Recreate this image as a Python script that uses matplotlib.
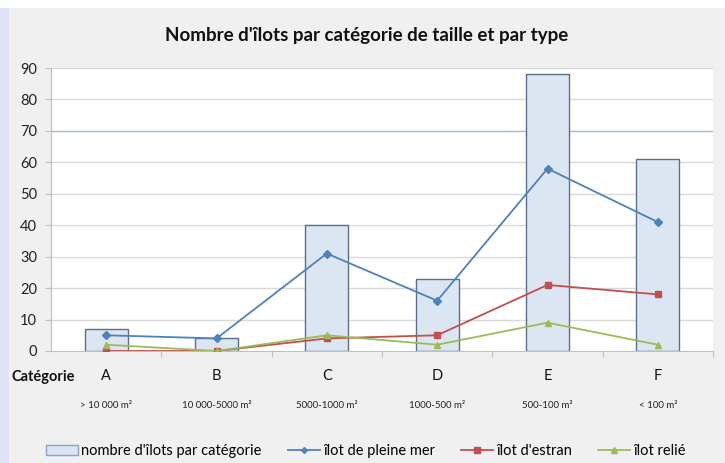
import matplotlib
matplotlib.use("Agg")
import matplotlib.pyplot as plt
from matplotlib.patches import Rectangle
from matplotlib.lines import Line2D

plt.rcParams['font.family'] = ['Lato', 'DejaVu Sans']

categories = ["A", "B", "C", "D", "E", "F"]
sizes = ["> 10 000 m²", "10 000-5000 m²", "5000-1000 m²", "1000-500 m²", "500-100 m²", "< 100 m²"]
total = [7, 4, 40, 23, 88, 61]
pleine_mer = [5, 4, 31, 16, 58, 41]
estran = [0, 0, 4, 5, 21, 18]
relie = [2, 0, 5, 2, 9, 2]

W, H = 725, 463
fig = plt.figure(figsize=(W / 100, H / 100), dpi=100)
fig.patch.set_facecolor("#f0f0f0")
fig.patches.append(Rectangle((0, 1 - 8 / H), 1, 8 / H, transform=fig.transFigure,
                             facecolor="white", edgecolor="none", zorder=0))
fig.patches.append(Rectangle((0, 0), 9 / W, 1 - 8 / H, transform=fig.transFigure,
                             facecolor="#dfe3f5", edgecolor="none", zorder=0))

left, right, top, bottom = 51, 713, 68, 351
ax = fig.add_axes([left / W, 1 - bottom / H, (right - left) / W, (bottom - top) / H])
ax.set_facecolor("white")

x = list(range(len(categories)))
ax.bar(x, total, width=0.39, color="#dce6f2", edgecolor="#5d7089", linewidth=1.0, zorder=2)
ax.plot(x, pleine_mer, color="#4f81bd", marker="D", markersize=4, linewidth=1.3, zorder=3)
ax.plot(x, estran, color="#c0504d", marker="s", markersize=5, linewidth=1.3, zorder=3)
ax.plot(x, relie, color="#9bbb59", marker="^", markersize=5, linewidth=1.3, zorder=4)

ax.set_xlim(-0.5, len(categories) - 0.5)
ax.set_ylim(0, 90)
ax.set_yticks(range(0, 91, 10))
for v in range(10, 91, 10):
    ax.axhline(v, color="#9dbbdc" if v == 70 else "#d9d9d9", linewidth=1.0, zorder=1)

for s in ["top", "right"]:
    ax.spines[s].set_visible(False)
ax.spines["left"].set_color("#bfbfbf")
ax.spines["bottom"].set_color("#bfbfbf")
ax.tick_params(axis="y", length=4, color="#bfbfbf", labelsize=10.5, labelcolor="#222222", pad=6)
ax.set_xticks([i + 0.5 for i in range(len(categories))], minor=False)
ax.set_xticklabels([])
ax.tick_params(axis="x", length=4, color="#bfbfbf")

for i, (c, s) in enumerate(zip(categories, sizes)):
    ax.annotate(c, xy=(i, 0), xycoords=("data", "axes fraction"), xytext=(0, -18),
                textcoords="offset points", ha="center", va="center", fontsize=10.5, color="#111111")
    ax.annotate(s, xy=(i, 0), xycoords=("data", "axes fraction"), xytext=(0, -39),
                textcoords="offset points", ha="center", va="center", fontsize=7, color="#222222")

fig.text(12 / W, 1 - 377 / H, "Catégorie", fontsize=10.5, fontweight="bold", ha="left", va="center", color="#111111")
fig.text(0.5 + 4 / W, 1 - 36 / H, "Nombre d'îlots par catégorie de taille et par type",
         fontsize=13.5, fontweight="bold", ha="center", va="center", color="#111111")

handles = [
    Rectangle((0, 0), 1, 1, facecolor="#dce6f2", edgecolor="#8ea3bd"),
    Line2D([], [], color="#4f81bd", marker="D", markersize=3, linewidth=1.3),
    Line2D([], [], color="#c0504d", marker="s", markersize=4, linewidth=1.3),
    Line2D([], [], color="#9bbb59", marker="^", markersize=4, linewidth=1.3),
]
labels = ["nombre d'îlots par catégorie", "îlot de pleine mer", "îlot d'estran", "îlot relié"]
fig.legend(handles, labels, loc="center", bbox_to_anchor=(0.505, 1 - 451 / H), ncol=4,
           frameon=False, fontsize=10.5, handlelength=2.2, handletextpad=0.2, columnspacing=1.8)

fig.savefig("out.png", dpi=100, facecolor=fig.get_facecolor())
